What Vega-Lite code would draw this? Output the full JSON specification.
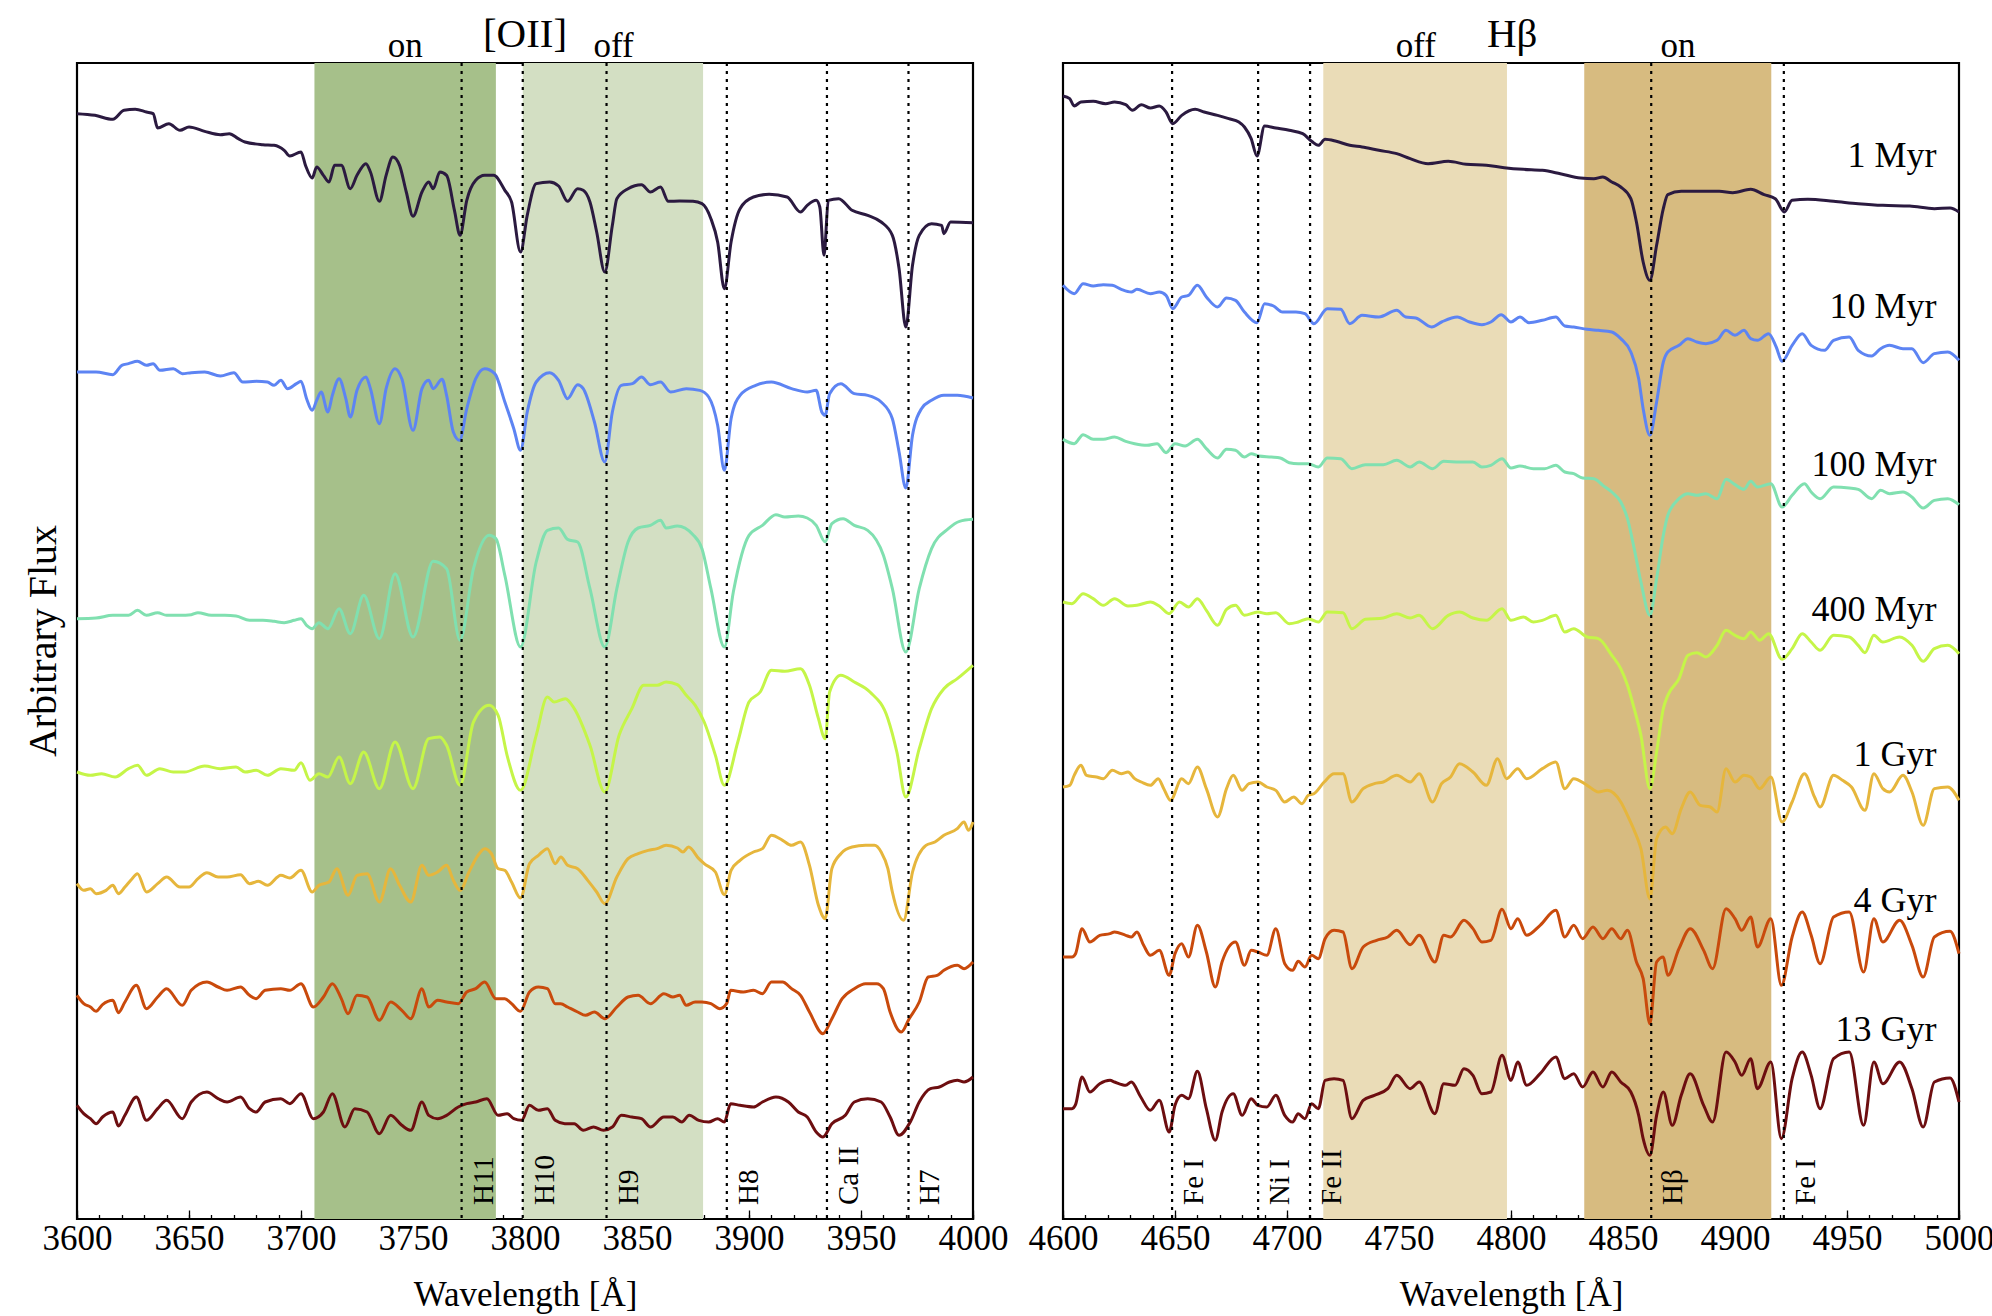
{
"$schema":"https://vega.github.io/schema/vega-lite/v6.json",
"background":"white",
"padding":{"left":23,"top":12,"right":0,"bottom":0},
"spacing":16,
"config":{
 "view":{"stroke":"black","strokeWidth":2.2},
 "axis":{"grid":false,"domain":false,"zindex":1,"labelFont":"Liberation Serif","labelFontSize":35,"labelColor":"black","titleFont":"Liberation Serif","titleFontSize":35,"titleFontWeight":"normal","titleColor":"black","tickColor":"black","tickWidth":1.3},
 "text":{"font":"Liberation Serif","color":"black"}
},
"datasets":{
 "bandsL":[{"w1":3706,"w2":3787,"k":"lon"},{"w1":3799,"w2":3879.5,"k":"loff"}],
 "bandsR":[{"w1":4716.2,"w2":4798.2,"k":"roff"},{"w1":4832.7,"w2":4916.2,"k":"ron"}],
 "linesL":[{"w":3771.7,"n":"H11"},{"w":3799,"n":"H10"},{"w":3836.4,"n":"H9"},{"w":3890.1,"n":"H8"},{"w":3934.8,"n":"Ca II"},{"w":3971.2,"n":"H7"}],
 "linesR":[{"w":4648.7,"n":"Fe I"},{"w":4687.1,"n":"Ni I"},{"w":4710.3,"n":"Fe II"},{"w":4862.6,"n":"Hβ"},{"w":4921.8,"n":"Fe I"}],
 "topL":[{"w":3746.5,"t":"on"},{"w":3839.5,"t":"off"}],
 "topR":[{"w":4757.5,"t":"off"},{"w":4874.5,"t":"on"}],
 "ttlL":[{"w":3800,"t":"[OII]"}],
 "ttlR":[{"w":4800.5,"t":"Hβ"}],
 "ytl":[{"t":"Arbitrary Flux"}],
 "ages":[{"t":"1 Myr","f":3156},{"t":"10 Myr","f":2703},{"t":"100 Myr","f":2229},{"t":"400 Myr","f":1794},{"t":"1 Gyr","f":1359},{"t":"4 Gyr","f":921},{"t":"13 Gyr","f":534}],
 "L":[
{"s":"1 Myr","w":3600,"f":3316},{"s":"1 Myr","w":3608,"f":3311},{"s":"1 Myr","w":3616,"f":3299},{"s":"1 Myr","w":3621,"f":3326},{"s":"1 Myr","w":3626,"f":3329},{"s":"1 Myr","w":3631,"f":3321},{"s":"1 Myr","w":3634,"f":3316},{"s":"1 Myr","w":3636,"f":3273},{"s":"1 Myr","w":3641,"f":3286},{"s":"1 Myr","w":3646,"f":3266},{"s":"1 Myr","w":3650,"f":3276},{"s":"1 Myr","w":3657,"f":3263},{"s":"1 Myr","w":3664,"f":3253},{"s":"1 Myr","w":3668,"f":3256},{"s":"1 Myr","w":3672,"f":3241},{"s":"1 Myr","w":3675,"f":3231},{"s":"1 Myr","w":3683,"f":3223},{"s":"1 Myr","w":3688,"f":3221},{"s":"1 Myr","w":3692.5,"f":3206},{"s":"1 Myr","w":3695,"f":3189},{"s":"1 Myr","w":3700,"f":3201},{"s":"1 Myr","w":3702,"f":3161},{"s":"1 Myr","w":3705,"f":3123},{"s":"1 Myr","w":3707,"f":3156},{"s":"1 Myr","w":3710,"f":3131},{"s":"1 Myr","w":3712.5,"f":3111},{"s":"1 Myr","w":3715,"f":3161},{"s":"1 Myr","w":3718,"f":3161},{"s":"1 Myr","w":3722,"f":3091},{"s":"1 Myr","w":3725,"f":3131},{"s":"1 Myr","w":3729,"f":3166},{"s":"1 Myr","w":3731,"f":3141},{"s":"1 Myr","w":3735,"f":3053},{"s":"1 Myr","w":3738,"f":3131},{"s":"1 Myr","w":3741,"f":3186},{"s":"1 Myr","w":3744,"f":3161},{"s":"1 Myr","w":3747,"f":3081},{"s":"1 Myr","w":3750,"f":3008},{"s":"1 Myr","w":3754,"f":3081},{"s":"1 Myr","w":3757,"f":3111},{"s":"1 Myr","w":3759,"f":3091},{"s":"1 Myr","w":3762,"f":3141},{"s":"1 Myr","w":3765,"f":3131},{"s":"1 Myr","w":3768.5,"f":3026},{"s":"1 Myr","w":3771,"f":2951},{"s":"1 Myr","w":3774,"f":3056},{"s":"1 Myr","w":3778,"f":3116},{"s":"1 Myr","w":3782,"f":3131},{"s":"1 Myr","w":3786,"f":3131},{"s":"1 Myr","w":3791,"f":3086},{"s":"1 Myr","w":3794,"f":3051},{"s":"1 Myr","w":3798,"f":2901},{"s":"1 Myr","w":3801,"f":3011},{"s":"1 Myr","w":3805,"f":3106},{"s":"1 Myr","w":3811,"f":3111},{"s":"1 Myr","w":3815,"f":3099},{"s":"1 Myr","w":3819,"f":3053},{"s":"1 Myr","w":3823.5,"f":3091},{"s":"1 Myr","w":3826,"f":3086},{"s":"1 Myr","w":3829,"f":3051},{"s":"1 Myr","w":3832,"f":2961},{"s":"1 Myr","w":3835.6,"f":2841},{"s":"1 Myr","w":3839,"f":2981},{"s":"1 Myr","w":3841,"f":3061},{"s":"1 Myr","w":3846,"f":3091},{"s":"1 Myr","w":3852,"f":3103},{"s":"1 Myr","w":3856,"f":3081},{"s":"1 Myr","w":3860.5,"f":3096},{"s":"1 Myr","w":3864,"f":3053},{"s":"1 Myr","w":3869,"f":3054},{"s":"1 Myr","w":3875,"f":3053},{"s":"1 Myr","w":3879,"f":3046},{"s":"1 Myr","w":3883,"f":3001},{"s":"1 Myr","w":3886,"f":2931},{"s":"1 Myr","w":3889,"f":2791},{"s":"1 Myr","w":3892,"f":2931},{"s":"1 Myr","w":3896,"f":3031},{"s":"1 Myr","w":3902,"f":3066},{"s":"1 Myr","w":3909,"f":3074},{"s":"1 Myr","w":3917,"f":3066},{"s":"1 Myr","w":3923,"f":3021},{"s":"1 Myr","w":3926,"f":3041},{"s":"1 Myr","w":3930,"f":3056},{"s":"1 Myr","w":3931.6,"f":3036},{"s":"1 Myr","w":3933.5,"f":2891},{"s":"1 Myr","w":3935.4,"f":3056},{"s":"1 Myr","w":3940,"f":3061},{"s":"1 Myr","w":3946,"f":3026},{"s":"1 Myr","w":3953,"f":3011},{"s":"1 Myr","w":3959,"f":2991},{"s":"1 Myr","w":3964,"f":2951},{"s":"1 Myr","w":3967,"f":2851},{"s":"1 Myr","w":3970,"f":2676},{"s":"1 Myr","w":3973,"f":2861},{"s":"1 Myr","w":3976,"f":2951},{"s":"1 Myr","w":3981.5,"f":2986},{"s":"1 Myr","w":3986,"f":2981},{"s":"1 Myr","w":3987,"f":2956},{"s":"1 Myr","w":3990,"f":2991},{"s":"1 Myr","w":4000,"f":2989},
{"s":"10 Myr","w":3600,"f":2541},{"s":"10 Myr","w":3608.5,"f":2541},{"s":"10 Myr","w":3616,"f":2533},{"s":"10 Myr","w":3620,"f":2561},{"s":"10 Myr","w":3623,"f":2566},{"s":"10 Myr","w":3627,"f":2573},{"s":"10 Myr","w":3631,"f":2561},{"s":"10 Myr","w":3634,"f":2566},{"s":"10 Myr","w":3637,"f":2546},{"s":"10 Myr","w":3643,"f":2551},{"s":"10 Myr","w":3647,"f":2536},{"s":"10 Myr","w":3651,"f":2539},{"s":"10 Myr","w":3657,"f":2541},{"s":"10 Myr","w":3664,"f":2529},{"s":"10 Myr","w":3670,"f":2539},{"s":"10 Myr","w":3674,"f":2511},{"s":"10 Myr","w":3680,"f":2513},{"s":"10 Myr","w":3685,"f":2511},{"s":"10 Myr","w":3688,"f":2501},{"s":"10 Myr","w":3691,"f":2516},{"s":"10 Myr","w":3694,"f":2491},{"s":"10 Myr","w":3698,"f":2506},{"s":"10 Myr","w":3700,"f":2513},{"s":"10 Myr","w":3702.5,"f":2461},{"s":"10 Myr","w":3705,"f":2426},{"s":"10 Myr","w":3707,"f":2456},{"s":"10 Myr","w":3709,"f":2481},{"s":"10 Myr","w":3712,"f":2421},{"s":"10 Myr","w":3714,"f":2471},{"s":"10 Myr","w":3717,"f":2521},{"s":"10 Myr","w":3720,"f":2461},{"s":"10 Myr","w":3722,"f":2406},{"s":"10 Myr","w":3725,"f":2486},{"s":"10 Myr","w":3729,"f":2526},{"s":"10 Myr","w":3731,"f":2491},{"s":"10 Myr","w":3735,"f":2386},{"s":"10 Myr","w":3738,"f":2491},{"s":"10 Myr","w":3742,"f":2551},{"s":"10 Myr","w":3745,"f":2521},{"s":"10 Myr","w":3750,"f":2366},{"s":"10 Myr","w":3754,"f":2491},{"s":"10 Myr","w":3757,"f":2516},{"s":"10 Myr","w":3759,"f":2491},{"s":"10 Myr","w":3763,"f":2519},{"s":"10 Myr","w":3765,"f":2471},{"s":"10 Myr","w":3768,"f":2361},{"s":"10 Myr","w":3770.8,"f":2336},{"s":"10 Myr","w":3774,"f":2431},{"s":"10 Myr","w":3778,"f":2521},{"s":"10 Myr","w":3782,"f":2551},{"s":"10 Myr","w":3786.5,"f":2536},{"s":"10 Myr","w":3791,"f":2451},{"s":"10 Myr","w":3795,"f":2371},{"s":"10 Myr","w":3798,"f":2306},{"s":"10 Myr","w":3801,"f":2421},{"s":"10 Myr","w":3805,"f":2511},{"s":"10 Myr","w":3811,"f":2539},{"s":"10 Myr","w":3815,"f":2516},{"s":"10 Myr","w":3819,"f":2461},{"s":"10 Myr","w":3823.5,"f":2503},{"s":"10 Myr","w":3826,"f":2491},{"s":"10 Myr","w":3831,"f":2391},{"s":"10 Myr","w":3835.6,"f":2271},{"s":"10 Myr","w":3839,"f":2421},{"s":"10 Myr","w":3843,"f":2501},{"s":"10 Myr","w":3848,"f":2506},{"s":"10 Myr","w":3852,"f":2526},{"s":"10 Myr","w":3856,"f":2503},{"s":"10 Myr","w":3860.5,"f":2511},{"s":"10 Myr","w":3865,"f":2481},{"s":"10 Myr","w":3872,"f":2491},{"s":"10 Myr","w":3878,"f":2486},{"s":"10 Myr","w":3882,"f":2466},{"s":"10 Myr","w":3886,"f":2381},{"s":"10 Myr","w":3889,"f":2246},{"s":"10 Myr","w":3892,"f":2401},{"s":"10 Myr","w":3896,"f":2471},{"s":"10 Myr","w":3903,"f":2501},{"s":"10 Myr","w":3910,"f":2511},{"s":"10 Myr","w":3919,"f":2491},{"s":"10 Myr","w":3926,"f":2481},{"s":"10 Myr","w":3930,"f":2486},{"s":"10 Myr","w":3932.5,"f":2421},{"s":"10 Myr","w":3934,"f":2411},{"s":"10 Myr","w":3936,"f":2476},{"s":"10 Myr","w":3941,"f":2506},{"s":"10 Myr","w":3947,"f":2476},{"s":"10 Myr","w":3953,"f":2471},{"s":"10 Myr","w":3959,"f":2451},{"s":"10 Myr","w":3964,"f":2401},{"s":"10 Myr","w":3967,"f":2301},{"s":"10 Myr","w":3970,"f":2193},{"s":"10 Myr","w":3973,"f":2351},{"s":"10 Myr","w":3977,"f":2431},{"s":"10 Myr","w":3981.5,"f":2456},{"s":"10 Myr","w":3987,"f":2471},{"s":"10 Myr","w":3993,"f":2471},{"s":"10 Myr","w":4000,"f":2463},
{"s":"100 Myr","w":3600,"f":1801},{"s":"100 Myr","w":3608.5,"f":1803},{"s":"100 Myr","w":3616,"f":1811},{"s":"100 Myr","w":3623,"f":1811},{"s":"100 Myr","w":3627,"f":1826},{"s":"100 Myr","w":3631,"f":1811},{"s":"100 Myr","w":3636,"f":1819},{"s":"100 Myr","w":3640,"f":1811},{"s":"100 Myr","w":3646,"f":1811},{"s":"100 Myr","w":3651,"f":1813},{"s":"100 Myr","w":3654,"f":1819},{"s":"100 Myr","w":3660,"f":1811},{"s":"100 Myr","w":3666,"f":1811},{"s":"100 Myr","w":3671,"f":1809},{"s":"100 Myr","w":3677,"f":1796},{"s":"100 Myr","w":3683,"f":1796},{"s":"100 Myr","w":3688,"f":1793},{"s":"100 Myr","w":3692.5,"f":1789},{"s":"100 Myr","w":3697,"f":1796},{"s":"100 Myr","w":3700,"f":1801},{"s":"100 Myr","w":3702.5,"f":1781},{"s":"100 Myr","w":3705,"f":1771},{"s":"100 Myr","w":3708,"f":1789},{"s":"100 Myr","w":3712,"f":1771},{"s":"100 Myr","w":3717,"f":1831},{"s":"100 Myr","w":3722,"f":1756},{"s":"100 Myr","w":3728,"f":1871},{"s":"100 Myr","w":3735,"f":1741},{"s":"100 Myr","w":3742,"f":1936},{"s":"100 Myr","w":3750,"f":1746},{"s":"100 Myr","w":3759,"f":1973},{"s":"100 Myr","w":3765,"f":1951},{"s":"100 Myr","w":3771,"f":1736},{"s":"100 Myr","w":3777,"f":1951},{"s":"100 Myr","w":3784,"f":2051},{"s":"100 Myr","w":3787,"f":2041},{"s":"100 Myr","w":3791,"f":1931},{"s":"100 Myr","w":3798,"f":1716},{"s":"100 Myr","w":3805,"f":1971},{"s":"100 Myr","w":3810,"f":2066},{"s":"100 Myr","w":3815,"f":2073},{"s":"100 Myr","w":3819,"f":2039},{"s":"100 Myr","w":3823.5,"f":2031},{"s":"100 Myr","w":3829,"f":1891},{"s":"100 Myr","w":3835.6,"f":1716},{"s":"100 Myr","w":3841,"f":1891},{"s":"100 Myr","w":3846,"f":2031},{"s":"100 Myr","w":3850.5,"f":2073},{"s":"100 Myr","w":3856,"f":2081},{"s":"100 Myr","w":3860.5,"f":2096},{"s":"100 Myr","w":3863,"f":2073},{"s":"100 Myr","w":3868,"f":2079},{"s":"100 Myr","w":3875,"f":2053},{"s":"100 Myr","w":3879,"f":2011},{"s":"100 Myr","w":3883,"f":1891},{"s":"100 Myr","w":3889,"f":1716},{"s":"100 Myr","w":3893,"f":1881},{"s":"100 Myr","w":3900,"f":2051},{"s":"100 Myr","w":3906,"f":2081},{"s":"100 Myr","w":3912,"f":2113},{"s":"100 Myr","w":3916,"f":2106},{"s":"100 Myr","w":3922,"f":2109},{"s":"100 Myr","w":3926,"f":2103},{"s":"100 Myr","w":3930,"f":2081},{"s":"100 Myr","w":3934,"f":2031},{"s":"100 Myr","w":3937,"f":2086},{"s":"100 Myr","w":3942,"f":2101},{"s":"100 Myr","w":3947,"f":2081},{"s":"100 Myr","w":3953,"f":2066},{"s":"100 Myr","w":3960,"f":1991},{"s":"100 Myr","w":3964,"f":1891},{"s":"100 Myr","w":3970,"f":1701},{"s":"100 Myr","w":3976,"f":1891},{"s":"100 Myr","w":3981.5,"f":2011},{"s":"100 Myr","w":3989,"f":2071},{"s":"100 Myr","w":3994,"f":2093},{"s":"100 Myr","w":4000,"f":2099},
{"s":"400 Myr","w":3600,"f":1341},{"s":"400 Myr","w":3606,"f":1331},{"s":"400 Myr","w":3611,"f":1336},{"s":"400 Myr","w":3617,"f":1326},{"s":"400 Myr","w":3623,"f":1351},{"s":"400 Myr","w":3627,"f":1361},{"s":"400 Myr","w":3631,"f":1331},{"s":"400 Myr","w":3637,"f":1351},{"s":"400 Myr","w":3643,"f":1341},{"s":"400 Myr","w":3648,"f":1341},{"s":"400 Myr","w":3657,"f":1359},{"s":"400 Myr","w":3664,"f":1351},{"s":"400 Myr","w":3671,"f":1356},{"s":"400 Myr","w":3675,"f":1341},{"s":"400 Myr","w":3680,"f":1346},{"s":"400 Myr","w":3685,"f":1331},{"s":"400 Myr","w":3691,"f":1351},{"s":"400 Myr","w":3697,"f":1346},{"s":"400 Myr","w":3700,"f":1369},{"s":"400 Myr","w":3704,"f":1316},{"s":"400 Myr","w":3708,"f":1336},{"s":"400 Myr","w":3712,"f":1326},{"s":"400 Myr","w":3717,"f":1386},{"s":"400 Myr","w":3722,"f":1306},{"s":"400 Myr","w":3728,"f":1401},{"s":"400 Myr","w":3735,"f":1291},{"s":"400 Myr","w":3742,"f":1431},{"s":"400 Myr","w":3750,"f":1291},{"s":"400 Myr","w":3757,"f":1441},{"s":"400 Myr","w":3762,"f":1446},{"s":"400 Myr","w":3765,"f":1421},{"s":"400 Myr","w":3771,"f":1301},{"s":"400 Myr","w":3777,"f":1491},{"s":"400 Myr","w":3784,"f":1541},{"s":"400 Myr","w":3788,"f":1511},{"s":"400 Myr","w":3792,"f":1391},{"s":"400 Myr","w":3798,"f":1286},{"s":"400 Myr","w":3805,"f":1451},{"s":"400 Myr","w":3810,"f":1566},{"s":"400 Myr","w":3813,"f":1551},{"s":"400 Myr","w":3818,"f":1561},{"s":"400 Myr","w":3822,"f":1531},{"s":"400 Myr","w":3829,"f":1421},{"s":"400 Myr","w":3835.6,"f":1281},{"s":"400 Myr","w":3842,"f":1451},{"s":"400 Myr","w":3847.7,"f":1531},{"s":"400 Myr","w":3853,"f":1601},{"s":"400 Myr","w":3859,"f":1601},{"s":"400 Myr","w":3863,"f":1611},{"s":"400 Myr","w":3868,"f":1603},{"s":"400 Myr","w":3872,"f":1571},{"s":"400 Myr","w":3876,"f":1541},{"s":"400 Myr","w":3880,"f":1491},{"s":"400 Myr","w":3885,"f":1391},{"s":"400 Myr","w":3889,"f":1301},{"s":"400 Myr","w":3895,"f":1431},{"s":"400 Myr","w":3900,"f":1551},{"s":"400 Myr","w":3905,"f":1581},{"s":"400 Myr","w":3910,"f":1646},{"s":"400 Myr","w":3916,"f":1643},{"s":"400 Myr","w":3923,"f":1651},{"s":"400 Myr","w":3927,"f":1601},{"s":"400 Myr","w":3931,"f":1501},{"s":"400 Myr","w":3934,"f":1441},{"s":"400 Myr","w":3936,"f":1581},{"s":"400 Myr","w":3941,"f":1631},{"s":"400 Myr","w":3947,"f":1611},{"s":"400 Myr","w":3954,"f":1581},{"s":"400 Myr","w":3962,"f":1501},{"s":"400 Myr","w":3966,"f":1401},{"s":"400 Myr","w":3970,"f":1266},{"s":"400 Myr","w":3976,"f":1411},{"s":"400 Myr","w":3981.5,"f":1531},{"s":"400 Myr","w":3987,"f":1591},{"s":"400 Myr","w":3993,"f":1621},{"s":"400 Myr","w":4000,"f":1661},
{"s":"1 Gyr","w":3600,"f":1006},{"s":"1 Gyr","w":3603,"f":986},{"s":"1 Gyr","w":3606,"f":991},{"s":"1 Gyr","w":3608.5,"f":976},{"s":"1 Gyr","w":3613,"f":986},{"s":"1 Gyr","w":3616,"f":1001},{"s":"1 Gyr","w":3618.5,"f":976},{"s":"1 Gyr","w":3621.4,"f":996},{"s":"1 Gyr","w":3624,"f":1016},{"s":"1 Gyr","w":3627,"f":1036},{"s":"1 Gyr","w":3631,"f":981},{"s":"1 Gyr","w":3636,"f":1006},{"s":"1 Gyr","w":3640,"f":1026},{"s":"1 Gyr","w":3646,"f":996},{"s":"1 Gyr","w":3650,"f":996},{"s":"1 Gyr","w":3654,"f":1021},{"s":"1 Gyr","w":3658,"f":1039},{"s":"1 Gyr","w":3663,"f":1026},{"s":"1 Gyr","w":3667,"f":1026},{"s":"1 Gyr","w":3673,"f":1033},{"s":"1 Gyr","w":3677,"f":1006},{"s":"1 Gyr","w":3681,"f":1013},{"s":"1 Gyr","w":3685,"f":1001},{"s":"1 Gyr","w":3691,"f":1031},{"s":"1 Gyr","w":3695,"f":1023},{"s":"1 Gyr","w":3700,"f":1046},{"s":"1 Gyr","w":3705,"f":981},{"s":"1 Gyr","w":3708,"f":1001},{"s":"1 Gyr","w":3712.5,"f":1011},{"s":"1 Gyr","w":3716,"f":1051},{"s":"1 Gyr","w":3721,"f":971},{"s":"1 Gyr","w":3725,"f":1031},{"s":"1 Gyr","w":3729.5,"f":1036},{"s":"1 Gyr","w":3735,"f":951},{"s":"1 Gyr","w":3740,"f":1051},{"s":"1 Gyr","w":3744,"f":1001},{"s":"1 Gyr","w":3749,"f":951},{"s":"1 Gyr","w":3754,"f":1061},{"s":"1 Gyr","w":3757,"f":1031},{"s":"1 Gyr","w":3761,"f":1041},{"s":"1 Gyr","w":3765,"f":1061},{"s":"1 Gyr","w":3768,"f":1016},{"s":"1 Gyr","w":3771,"f":986},{"s":"1 Gyr","w":3775,"f":1041},{"s":"1 Gyr","w":3779,"f":1091},{"s":"1 Gyr","w":3782,"f":1111},{"s":"1 Gyr","w":3785,"f":1096},{"s":"1 Gyr","w":3788,"f":1051},{"s":"1 Gyr","w":3791,"f":1046},{"s":"1 Gyr","w":3794,"f":1011},{"s":"1 Gyr","w":3798,"f":963},{"s":"1 Gyr","w":3802,"f":1066},{"s":"1 Gyr","w":3806,"f":1091},{"s":"1 Gyr","w":3810,"f":1111},{"s":"1 Gyr","w":3813.5,"f":1066},{"s":"1 Gyr","w":3816,"f":1086},{"s":"1 Gyr","w":3819,"f":1061},{"s":"1 Gyr","w":3823.5,"f":1051},{"s":"1 Gyr","w":3828,"f":1016},{"s":"1 Gyr","w":3832,"f":981},{"s":"1 Gyr","w":3835.6,"f":946},{"s":"1 Gyr","w":3841,"f":1026},{"s":"1 Gyr","w":3846,"f":1081},{"s":"1 Gyr","w":3850.5,"f":1096},{"s":"1 Gyr","w":3855,"f":1106},{"s":"1 Gyr","w":3859,"f":1111},{"s":"1 Gyr","w":3863,"f":1121},{"s":"1 Gyr","w":3868,"f":1113},{"s":"1 Gyr","w":3870.5,"f":1101},{"s":"1 Gyr","w":3873,"f":1116},{"s":"1 Gyr","w":3877.6,"f":1081},{"s":"1 Gyr","w":3880,"f":1066},{"s":"1 Gyr","w":3885,"f":1041},{"s":"1 Gyr","w":3889,"f":973},{"s":"1 Gyr","w":3892,"f":1046},{"s":"1 Gyr","w":3896,"f":1076},{"s":"1 Gyr","w":3902,"f":1101},{"s":"1 Gyr","w":3906,"f":1111},{"s":"1 Gyr","w":3910,"f":1151},{"s":"1 Gyr","w":3915,"f":1136},{"s":"1 Gyr","w":3919,"f":1121},{"s":"1 Gyr","w":3923,"f":1131},{"s":"1 Gyr","w":3927,"f":1061},{"s":"1 Gyr","w":3931,"f":941},{"s":"1 Gyr","w":3934,"f":901},{"s":"1 Gyr","w":3937,"f":1051},{"s":"1 Gyr","w":3941,"f":1096},{"s":"1 Gyr","w":3946,"f":1116},{"s":"1 Gyr","w":3952,"f":1121},{"s":"1 Gyr","w":3956,"f":1121},{"s":"1 Gyr","w":3959,"f":1101},{"s":"1 Gyr","w":3962,"f":1051},{"s":"1 Gyr","w":3964,"f":981},{"s":"1 Gyr","w":3969,"f":896},{"s":"1 Gyr","w":3973,"f":1041},{"s":"1 Gyr","w":3979,"f":1121},{"s":"1 Gyr","w":3983,"f":1131},{"s":"1 Gyr","w":3987,"f":1151},{"s":"1 Gyr","w":3993,"f":1171},{"s":"1 Gyr","w":3996,"f":1191},{"s":"1 Gyr","w":3998,"f":1166},{"s":"1 Gyr","w":4000,"f":1191},
{"s":"4 Gyr","w":3600,"f":671},{"s":"4 Gyr","w":3603,"f":646},{"s":"4 Gyr","w":3606,"f":636},{"s":"4 Gyr","w":3608.5,"f":623},{"s":"4 Gyr","w":3611.4,"f":643},{"s":"4 Gyr","w":3616,"f":656},{"s":"4 Gyr","w":3618.5,"f":619},{"s":"4 Gyr","w":3621.4,"f":651},{"s":"4 Gyr","w":3626.5,"f":701},{"s":"4 Gyr","w":3631,"f":631},{"s":"4 Gyr","w":3636,"f":666},{"s":"4 Gyr","w":3640,"f":691},{"s":"4 Gyr","w":3647,"f":641},{"s":"4 Gyr","w":3651,"f":686},{"s":"4 Gyr","w":3658,"f":711},{"s":"4 Gyr","w":3663,"f":696},{"s":"4 Gyr","w":3667,"f":686},{"s":"4 Gyr","w":3673,"f":696},{"s":"4 Gyr","w":3677,"f":671},{"s":"4 Gyr","w":3680,"f":661},{"s":"4 Gyr","w":3684,"f":686},{"s":"4 Gyr","w":3691,"f":691},{"s":"4 Gyr","w":3695,"f":686},{"s":"4 Gyr","w":3700,"f":706},{"s":"4 Gyr","w":3705.5,"f":636},{"s":"4 Gyr","w":3710,"f":666},{"s":"4 Gyr","w":3714,"f":706},{"s":"4 Gyr","w":3718,"f":661},{"s":"4 Gyr","w":3721,"f":616},{"s":"4 Gyr","w":3725,"f":671},{"s":"4 Gyr","w":3729.5,"f":666},{"s":"4 Gyr","w":3735,"f":596},{"s":"4 Gyr","w":3740,"f":651},{"s":"4 Gyr","w":3745,"f":626},{"s":"4 Gyr","w":3749,"f":601},{"s":"4 Gyr","w":3754,"f":691},{"s":"4 Gyr","w":3757,"f":636},{"s":"4 Gyr","w":3761,"f":656},{"s":"4 Gyr","w":3765,"f":651},{"s":"4 Gyr","w":3770.2,"f":646},{"s":"4 Gyr","w":3774,"f":681},{"s":"4 Gyr","w":3778,"f":691},{"s":"4 Gyr","w":3782,"f":711},{"s":"4 Gyr","w":3787,"f":661},{"s":"4 Gyr","w":3791,"f":661},{"s":"4 Gyr","w":3794,"f":646},{"s":"4 Gyr","w":3798,"f":623},{"s":"4 Gyr","w":3802,"f":681},{"s":"4 Gyr","w":3806,"f":696},{"s":"4 Gyr","w":3810,"f":691},{"s":"4 Gyr","w":3813.5,"f":646},{"s":"4 Gyr","w":3816,"f":646},{"s":"4 Gyr","w":3819,"f":636},{"s":"4 Gyr","w":3823.5,"f":621},{"s":"4 Gyr","w":3827,"f":611},{"s":"4 Gyr","w":3831,"f":621},{"s":"4 Gyr","w":3835.7,"f":601},{"s":"4 Gyr","w":3841,"f":636},{"s":"4 Gyr","w":3846,"f":666},{"s":"4 Gyr","w":3850.5,"f":671},{"s":"4 Gyr","w":3856,"f":646},{"s":"4 Gyr","w":3862,"f":676},{"s":"4 Gyr","w":3866,"f":666},{"s":"4 Gyr","w":3869,"f":671},{"s":"4 Gyr","w":3872,"f":641},{"s":"4 Gyr","w":3876,"f":651},{"s":"4 Gyr","w":3879,"f":651},{"s":"4 Gyr","w":3883,"f":646},{"s":"4 Gyr","w":3887,"f":631},{"s":"4 Gyr","w":3890,"f":646},{"s":"4 Gyr","w":3891.8,"f":686},{"s":"4 Gyr","w":3897.5,"f":681},{"s":"4 Gyr","w":3902,"f":686},{"s":"4 Gyr","w":3906,"f":676},{"s":"4 Gyr","w":3910,"f":711},{"s":"4 Gyr","w":3915,"f":711},{"s":"4 Gyr","w":3919,"f":691},{"s":"4 Gyr","w":3923,"f":671},{"s":"4 Gyr","w":3927,"f":621},{"s":"4 Gyr","w":3933,"f":556},{"s":"4 Gyr","w":3937,"f":601},{"s":"4 Gyr","w":3941.6,"f":661},{"s":"4 Gyr","w":3947,"f":691},{"s":"4 Gyr","w":3952,"f":706},{"s":"4 Gyr","w":3957,"f":706},{"s":"4 Gyr","w":3960,"f":691},{"s":"4 Gyr","w":3963,"f":621},{"s":"4 Gyr","w":3968,"f":561},{"s":"4 Gyr","w":3971.5,"f":601},{"s":"4 Gyr","w":3976,"f":651},{"s":"4 Gyr","w":3980,"f":726},{"s":"4 Gyr","w":3984,"f":731},{"s":"4 Gyr","w":3987,"f":746},{"s":"4 Gyr","w":3993,"f":761},{"s":"4 Gyr","w":3996,"f":751},{"s":"4 Gyr","w":4000,"f":771},
{"s":"13 Gyr","w":3600,"f":341},{"s":"13 Gyr","w":3603,"f":316},{"s":"13 Gyr","w":3606,"f":301},{"s":"13 Gyr","w":3608.5,"f":286},{"s":"13 Gyr","w":3611.4,"f":306},{"s":"13 Gyr","w":3616,"f":321},{"s":"13 Gyr","w":3618.5,"f":279},{"s":"13 Gyr","w":3621.4,"f":311},{"s":"13 Gyr","w":3626.5,"f":366},{"s":"13 Gyr","w":3631,"f":296},{"s":"13 Gyr","w":3636,"f":331},{"s":"13 Gyr","w":3640,"f":356},{"s":"13 Gyr","w":3647,"f":301},{"s":"13 Gyr","w":3651,"f":351},{"s":"13 Gyr","w":3658,"f":381},{"s":"13 Gyr","w":3663,"f":361},{"s":"13 Gyr","w":3667,"f":351},{"s":"13 Gyr","w":3673,"f":366},{"s":"13 Gyr","w":3677,"f":331},{"s":"13 Gyr","w":3680,"f":321},{"s":"13 Gyr","w":3684,"f":351},{"s":"13 Gyr","w":3691,"f":361},{"s":"13 Gyr","w":3695,"f":346},{"s":"13 Gyr","w":3700,"f":376},{"s":"13 Gyr","w":3705.5,"f":301},{"s":"13 Gyr","w":3710,"f":321},{"s":"13 Gyr","w":3714,"f":376},{"s":"13 Gyr","w":3719.6,"f":276},{"s":"13 Gyr","w":3724,"f":331},{"s":"13 Gyr","w":3729.5,"f":321},{"s":"13 Gyr","w":3735,"f":256},{"s":"13 Gyr","w":3740,"f":311},{"s":"13 Gyr","w":3745,"f":281},{"s":"13 Gyr","w":3749,"f":266},{"s":"13 Gyr","w":3754,"f":351},{"s":"13 Gyr","w":3757,"f":311},{"s":"13 Gyr","w":3761,"f":301},{"s":"13 Gyr","w":3765,"f":311},{"s":"13 Gyr","w":3770.2,"f":336},{"s":"13 Gyr","w":3774,"f":346},{"s":"13 Gyr","w":3778,"f":351},{"s":"13 Gyr","w":3783,"f":361},{"s":"13 Gyr","w":3788,"f":311},{"s":"13 Gyr","w":3792,"f":316},{"s":"13 Gyr","w":3795,"f":301},{"s":"13 Gyr","w":3798.5,"f":296},{"s":"13 Gyr","w":3802,"f":341},{"s":"13 Gyr","w":3806,"f":326},{"s":"13 Gyr","w":3810,"f":331},{"s":"13 Gyr","w":3813.5,"f":296},{"s":"13 Gyr","w":3817.8,"f":286},{"s":"13 Gyr","w":3822,"f":286},{"s":"13 Gyr","w":3826,"f":266},{"s":"13 Gyr","w":3830.6,"f":276},{"s":"13 Gyr","w":3835,"f":266},{"s":"13 Gyr","w":3839,"f":276},{"s":"13 Gyr","w":3843,"f":311},{"s":"13 Gyr","w":3847.7,"f":306},{"s":"13 Gyr","w":3852,"f":301},{"s":"13 Gyr","w":3856,"f":276},{"s":"13 Gyr","w":3862,"f":306},{"s":"13 Gyr","w":3866,"f":306},{"s":"13 Gyr","w":3870,"f":291},{"s":"13 Gyr","w":3873.3,"f":311},{"s":"13 Gyr","w":3877.6,"f":296},{"s":"13 Gyr","w":3882,"f":291},{"s":"13 Gyr","w":3886,"f":301},{"s":"13 Gyr","w":3889,"f":291},{"s":"13 Gyr","w":3891.8,"f":346},{"s":"13 Gyr","w":3896,"f":341},{"s":"13 Gyr","w":3902,"f":336},{"s":"13 Gyr","w":3906,"f":351},{"s":"13 Gyr","w":3912,"f":366},{"s":"13 Gyr","w":3917.6,"f":351},{"s":"13 Gyr","w":3922,"f":321},{"s":"13 Gyr","w":3926,"f":306},{"s":"13 Gyr","w":3930,"f":261},{"s":"13 Gyr","w":3933,"f":246},{"s":"13 Gyr","w":3937,"f":286},{"s":"13 Gyr","w":3943,"f":311},{"s":"13 Gyr","w":3947,"f":351},{"s":"13 Gyr","w":3953,"f":361},{"s":"13 Gyr","w":3959,"f":351},{"s":"13 Gyr","w":3963,"f":306},{"s":"13 Gyr","w":3967,"f":251},{"s":"13 Gyr","w":3972,"f":291},{"s":"13 Gyr","w":3976,"f":351},{"s":"13 Gyr","w":3981,"f":391},{"s":"13 Gyr","w":3985,"f":396},{"s":"13 Gyr","w":3989.5,"f":411},{"s":"13 Gyr","w":3993,"f":416},{"s":"13 Gyr","w":3996,"f":411},{"s":"13 Gyr","w":4000,"f":426}
 ],
 "R":[
{"s":"1 Myr","w":4600,"f":3369},{"s":"1 Myr","w":4603,"f":3361},{"s":"1 Myr","w":4605,"f":3339},{"s":"1 Myr","w":4608,"f":3351},{"s":"1 Myr","w":4613.5,"f":3353},{"s":"1 Myr","w":4619,"f":3346},{"s":"1 Myr","w":4623,"f":3351},{"s":"1 Myr","w":4628,"f":3343},{"s":"1 Myr","w":4631,"f":3326},{"s":"1 Myr","w":4635,"f":3343},{"s":"1 Myr","w":4639,"f":3333},{"s":"1 Myr","w":4643,"f":3339},{"s":"1 Myr","w":4646,"f":3321},{"s":"1 Myr","w":4649,"f":3286},{"s":"1 Myr","w":4653,"f":3311},{"s":"1 Myr","w":4659,"f":3329},{"s":"1 Myr","w":4663,"f":3321},{"s":"1 Myr","w":4669,"f":3311},{"s":"1 Myr","w":4674,"f":3301},{"s":"1 Myr","w":4678.5,"f":3291},{"s":"1 Myr","w":4681,"f":3276},{"s":"1 Myr","w":4684,"f":3241},{"s":"1 Myr","w":4686.6,"f":3189},{"s":"1 Myr","w":4690,"f":3279},{"s":"1 Myr","w":4695,"f":3273},{"s":"1 Myr","w":4701,"f":3266},{"s":"1 Myr","w":4707,"f":3256},{"s":"1 Myr","w":4711,"f":3233},{"s":"1 Myr","w":4714,"f":3221},{"s":"1 Myr","w":4717,"f":3239},{"s":"1 Myr","w":4722,"f":3233},{"s":"1 Myr","w":4728,"f":3221},{"s":"1 Myr","w":4733.5,"f":3216},{"s":"1 Myr","w":4741,"f":3206},{"s":"1 Myr","w":4749,"f":3196},{"s":"1 Myr","w":4755,"f":3181},{"s":"1 Myr","w":4763,"f":3166},{"s":"1 Myr","w":4772,"f":3173},{"s":"1 Myr","w":4780,"f":3164},{"s":"1 Myr","w":4789,"f":3161},{"s":"1 Myr","w":4797,"f":3154},{"s":"1 Myr","w":4805.5,"f":3149},{"s":"1 Myr","w":4814,"f":3146},{"s":"1 Myr","w":4822,"f":3136},{"s":"1 Myr","w":4831,"f":3123},{"s":"1 Myr","w":4837,"f":3121},{"s":"1 Myr","w":4841,"f":3126},{"s":"1 Myr","w":4845,"f":3111},{"s":"1 Myr","w":4849,"f":3096},{"s":"1 Myr","w":4853.5,"f":3061},{"s":"1 Myr","w":4856,"f":2991},{"s":"1 Myr","w":4859,"f":2871},{"s":"1 Myr","w":4862,"f":2816},{"s":"1 Myr","w":4865,"f":2921},{"s":"1 Myr","w":4868,"f":3031},{"s":"1 Myr","w":4870,"f":3073},{"s":"1 Myr","w":4876,"f":3083},{"s":"1 Myr","w":4884.5,"f":3083},{"s":"1 Myr","w":4893,"f":3083},{"s":"1 Myr","w":4899,"f":3079},{"s":"1 Myr","w":4907,"f":3089},{"s":"1 Myr","w":4913,"f":3073},{"s":"1 Myr","w":4918,"f":3061},{"s":"1 Myr","w":4922,"f":3021},{"s":"1 Myr","w":4925.5,"f":3056},{"s":"1 Myr","w":4932.5,"f":3059},{"s":"1 Myr","w":4944,"f":3053},{"s":"1 Myr","w":4955,"f":3046},{"s":"1 Myr","w":4966,"f":3041},{"s":"1 Myr","w":4978,"f":3039},{"s":"1 Myr","w":4989,"f":3031},{"s":"1 Myr","w":4996,"f":3033},{"s":"1 Myr","w":5000,"f":3021},
{"s":"10 Myr","w":4600,"f":2801},{"s":"10 Myr","w":4605,"f":2776},{"s":"10 Myr","w":4609,"f":2806},{"s":"10 Myr","w":4613.5,"f":2799},{"s":"10 Myr","w":4618,"f":2803},{"s":"10 Myr","w":4622,"f":2801},{"s":"10 Myr","w":4626,"f":2789},{"s":"10 Myr","w":4630.5,"f":2781},{"s":"10 Myr","w":4633,"f":2789},{"s":"10 Myr","w":4639,"f":2776},{"s":"10 Myr","w":4643,"f":2781},{"s":"10 Myr","w":4646,"f":2771},{"s":"10 Myr","w":4649,"f":2731},{"s":"10 Myr","w":4653,"f":2766},{"s":"10 Myr","w":4656,"f":2771},{"s":"10 Myr","w":4660,"f":2801},{"s":"10 Myr","w":4664,"f":2766},{"s":"10 Myr","w":4669,"f":2736},{"s":"10 Myr","w":4673,"f":2763},{"s":"10 Myr","w":4677,"f":2756},{"s":"10 Myr","w":4681,"f":2721},{"s":"10 Myr","w":4686.6,"f":2689},{"s":"10 Myr","w":4690,"f":2746},{"s":"10 Myr","w":4694,"f":2739},{"s":"10 Myr","w":4698,"f":2721},{"s":"10 Myr","w":4704,"f":2721},{"s":"10 Myr","w":4708,"f":2716},{"s":"10 Myr","w":4712,"f":2686},{"s":"10 Myr","w":4718,"f":2731},{"s":"10 Myr","w":4724,"f":2729},{"s":"10 Myr","w":4728,"f":2686},{"s":"10 Myr","w":4733.5,"f":2711},{"s":"10 Myr","w":4741,"f":2706},{"s":"10 Myr","w":4749,"f":2726},{"s":"10 Myr","w":4753,"f":2706},{"s":"10 Myr","w":4757.5,"f":2703},{"s":"10 Myr","w":4764.6,"f":2676},{"s":"10 Myr","w":4769,"f":2691},{"s":"10 Myr","w":4776,"f":2706},{"s":"10 Myr","w":4781.5,"f":2691},{"s":"10 Myr","w":4787,"f":2683},{"s":"10 Myr","w":4791,"f":2691},{"s":"10 Myr","w":4795.6,"f":2713},{"s":"10 Myr","w":4800,"f":2691},{"s":"10 Myr","w":4804,"f":2706},{"s":"10 Myr","w":4808,"f":2689},{"s":"10 Myr","w":4814,"f":2696},{"s":"10 Myr","w":4820,"f":2706},{"s":"10 Myr","w":4824,"f":2679},{"s":"10 Myr","w":4828,"f":2676},{"s":"10 Myr","w":4834,"f":2669},{"s":"10 Myr","w":4839,"f":2666},{"s":"10 Myr","w":4845,"f":2661},{"s":"10 Myr","w":4849,"f":2641},{"s":"10 Myr","w":4853.5,"f":2601},{"s":"10 Myr","w":4857,"f":2521},{"s":"10 Myr","w":4859,"f":2431},{"s":"10 Myr","w":4862,"f":2351},{"s":"10 Myr","w":4865,"f":2451},{"s":"10 Myr","w":4868,"f":2571},{"s":"10 Myr","w":4870,"f":2601},{"s":"10 Myr","w":4875,"f":2621},{"s":"10 Myr","w":4879,"f":2641},{"s":"10 Myr","w":4883,"f":2631},{"s":"10 Myr","w":4887,"f":2626},{"s":"10 Myr","w":4892,"f":2636},{"s":"10 Myr","w":4896,"f":2666},{"s":"10 Myr","w":4900,"f":2651},{"s":"10 Myr","w":4904,"f":2666},{"s":"10 Myr","w":4907,"f":2641},{"s":"10 Myr","w":4910,"f":2636},{"s":"10 Myr","w":4915,"f":2656},{"s":"10 Myr","w":4918.4,"f":2616},{"s":"10 Myr","w":4921,"f":2573},{"s":"10 Myr","w":4925.5,"f":2621},{"s":"10 Myr","w":4930,"f":2656},{"s":"10 Myr","w":4934,"f":2621},{"s":"10 Myr","w":4940,"f":2606},{"s":"10 Myr","w":4944,"f":2636},{"s":"10 Myr","w":4951,"f":2646},{"s":"10 Myr","w":4955,"f":2606},{"s":"10 Myr","w":4961,"f":2589},{"s":"10 Myr","w":4965,"f":2611},{"s":"10 Myr","w":4969,"f":2621},{"s":"10 Myr","w":4975,"f":2611},{"s":"10 Myr","w":4979,"f":2611},{"s":"10 Myr","w":4984,"f":2569},{"s":"10 Myr","w":4989,"f":2596},{"s":"10 Myr","w":4995,"f":2601},{"s":"10 Myr","w":5000,"f":2576},
{"s":"100 Myr","w":4600,"f":2339},{"s":"100 Myr","w":4605,"f":2326},{"s":"100 Myr","w":4609,"f":2353},{"s":"100 Myr","w":4613.5,"f":2339},{"s":"100 Myr","w":4618,"f":2339},{"s":"100 Myr","w":4623,"f":2346},{"s":"100 Myr","w":4628,"f":2333},{"s":"100 Myr","w":4632,"f":2326},{"s":"100 Myr","w":4637.5,"f":2321},{"s":"100 Myr","w":4642,"f":2326},{"s":"100 Myr","w":4646,"f":2299},{"s":"100 Myr","w":4650,"f":2326},{"s":"100 Myr","w":4654.5,"f":2319},{"s":"100 Myr","w":4660,"f":2339},{"s":"100 Myr","w":4664,"f":2311},{"s":"100 Myr","w":4669,"f":2283},{"s":"100 Myr","w":4673,"f":2309},{"s":"100 Myr","w":4677,"f":2306},{"s":"100 Myr","w":4681,"f":2286},{"s":"100 Myr","w":4684,"f":2296},{"s":"100 Myr","w":4687.5,"f":2289},{"s":"100 Myr","w":4693,"f":2286},{"s":"100 Myr","w":4697,"f":2283},{"s":"100 Myr","w":4701,"f":2269},{"s":"100 Myr","w":4705,"f":2266},{"s":"100 Myr","w":4709.5,"f":2266},{"s":"100 Myr","w":4714,"f":2256},{"s":"100 Myr","w":4718,"f":2283},{"s":"100 Myr","w":4724,"f":2281},{"s":"100 Myr","w":4729,"f":2251},{"s":"100 Myr","w":4735,"f":2263},{"s":"100 Myr","w":4743,"f":2263},{"s":"100 Myr","w":4749,"f":2276},{"s":"100 Myr","w":4755,"f":2256},{"s":"100 Myr","w":4759,"f":2271},{"s":"100 Myr","w":4765,"f":2251},{"s":"100 Myr","w":4770,"f":2273},{"s":"100 Myr","w":4777,"f":2271},{"s":"100 Myr","w":4783,"f":2271},{"s":"100 Myr","w":4787,"f":2256},{"s":"100 Myr","w":4791,"f":2261},{"s":"100 Myr","w":4796,"f":2281},{"s":"100 Myr","w":4800,"f":2253},{"s":"100 Myr","w":4804,"f":2259},{"s":"100 Myr","w":4810,"f":2251},{"s":"100 Myr","w":4815,"f":2251},{"s":"100 Myr","w":4820,"f":2261},{"s":"100 Myr","w":4824,"f":2241},{"s":"100 Myr","w":4828,"f":2236},{"s":"100 Myr","w":4832,"f":2223},{"s":"100 Myr","w":4837,"f":2221},{"s":"100 Myr","w":4841,"f":2201},{"s":"100 Myr","w":4845,"f":2181},{"s":"100 Myr","w":4849,"f":2151},{"s":"100 Myr","w":4852,"f":2101},{"s":"100 Myr","w":4855,"f":2011},{"s":"100 Myr","w":4858,"f":1911},{"s":"100 Myr","w":4862,"f":1811},{"s":"100 Myr","w":4865,"f":1921},{"s":"100 Myr","w":4868,"f":2051},{"s":"100 Myr","w":4870,"f":2111},{"s":"100 Myr","w":4875,"f":2161},{"s":"100 Myr","w":4879,"f":2176},{"s":"100 Myr","w":4883,"f":2171},{"s":"100 Myr","w":4887,"f":2176},{"s":"100 Myr","w":4892,"f":2161},{"s":"100 Myr","w":4896,"f":2219},{"s":"100 Myr","w":4900,"f":2203},{"s":"100 Myr","w":4904,"f":2189},{"s":"100 Myr","w":4907,"f":2213},{"s":"100 Myr","w":4910,"f":2196},{"s":"100 Myr","w":4916,"f":2206},{"s":"100 Myr","w":4921,"f":2136},{"s":"100 Myr","w":4925.5,"f":2171},{"s":"100 Myr","w":4931,"f":2206},{"s":"100 Myr","w":4934,"f":2181},{"s":"100 Myr","w":4938,"f":2161},{"s":"100 Myr","w":4944,"f":2196},{"s":"100 Myr","w":4951,"f":2193},{"s":"100 Myr","w":4955,"f":2189},{"s":"100 Myr","w":4961,"f":2161},{"s":"100 Myr","w":4965,"f":2186},{"s":"100 Myr","w":4969,"f":2176},{"s":"100 Myr","w":4975,"f":2181},{"s":"100 Myr","w":4979,"f":2166},{"s":"100 Myr","w":4984,"f":2133},{"s":"100 Myr","w":4989,"f":2156},{"s":"100 Myr","w":4995,"f":2161},{"s":"100 Myr","w":5000,"f":2143},
{"s":"400 Myr","w":4600,"f":1851},{"s":"400 Myr","w":4604,"f":1846},{"s":"400 Myr","w":4609,"f":1876},{"s":"400 Myr","w":4613.5,"f":1861},{"s":"400 Myr","w":4618,"f":1841},{"s":"400 Myr","w":4623,"f":1861},{"s":"400 Myr","w":4629,"f":1839},{"s":"400 Myr","w":4633,"f":1841},{"s":"400 Myr","w":4639,"f":1851},{"s":"400 Myr","w":4643,"f":1839},{"s":"400 Myr","w":4647.4,"f":1816},{"s":"400 Myr","w":4652,"f":1851},{"s":"400 Myr","w":4656,"f":1836},{"s":"400 Myr","w":4660,"f":1861},{"s":"400 Myr","w":4664,"f":1826},{"s":"400 Myr","w":4669,"f":1781},{"s":"400 Myr","w":4673,"f":1829},{"s":"400 Myr","w":4677,"f":1841},{"s":"400 Myr","w":4681,"f":1811},{"s":"400 Myr","w":4687,"f":1821},{"s":"400 Myr","w":4691,"f":1816},{"s":"400 Myr","w":4695,"f":1819},{"s":"400 Myr","w":4701,"f":1786},{"s":"400 Myr","w":4705,"f":1791},{"s":"400 Myr","w":4709.5,"f":1801},{"s":"400 Myr","w":4714,"f":1791},{"s":"400 Myr","w":4718,"f":1821},{"s":"400 Myr","w":4725,"f":1819},{"s":"400 Myr","w":4729,"f":1771},{"s":"400 Myr","w":4735,"f":1799},{"s":"400 Myr","w":4743,"f":1803},{"s":"400 Myr","w":4749,"f":1816},{"s":"400 Myr","w":4755,"f":1803},{"s":"400 Myr","w":4759,"f":1811},{"s":"400 Myr","w":4765,"f":1771},{"s":"400 Myr","w":4772,"f":1811},{"s":"400 Myr","w":4777,"f":1821},{"s":"400 Myr","w":4783,"f":1803},{"s":"400 Myr","w":4789,"f":1796},{"s":"400 Myr","w":4796,"f":1831},{"s":"400 Myr","w":4800,"f":1796},{"s":"400 Myr","w":4805.5,"f":1806},{"s":"400 Myr","w":4810,"f":1791},{"s":"400 Myr","w":4814,"f":1796},{"s":"400 Myr","w":4820,"f":1811},{"s":"400 Myr","w":4824,"f":1761},{"s":"400 Myr","w":4828,"f":1771},{"s":"400 Myr","w":4834,"f":1746},{"s":"400 Myr","w":4839,"f":1741},{"s":"400 Myr","w":4845,"f":1691},{"s":"400 Myr","w":4849,"f":1651},{"s":"400 Myr","w":4852,"f":1601},{"s":"400 Myr","w":4855,"f":1531},{"s":"400 Myr","w":4858,"f":1451},{"s":"400 Myr","w":4862,"f":1291},{"s":"400 Myr","w":4865,"f":1401},{"s":"400 Myr","w":4868,"f":1531},{"s":"400 Myr","w":4870,"f":1571},{"s":"400 Myr","w":4875,"f":1621},{"s":"400 Myr","w":4879,"f":1691},{"s":"400 Myr","w":4883,"f":1699},{"s":"400 Myr","w":4887,"f":1686},{"s":"400 Myr","w":4892,"f":1721},{"s":"400 Myr","w":4896,"f":1766},{"s":"400 Myr","w":4900,"f":1751},{"s":"400 Myr","w":4904,"f":1741},{"s":"400 Myr","w":4907,"f":1761},{"s":"400 Myr","w":4911,"f":1736},{"s":"400 Myr","w":4915,"f":1756},{"s":"400 Myr","w":4921,"f":1679},{"s":"400 Myr","w":4925.5,"f":1711},{"s":"400 Myr","w":4930,"f":1756},{"s":"400 Myr","w":4934,"f":1731},{"s":"400 Myr","w":4938,"f":1706},{"s":"400 Myr","w":4944,"f":1751},{"s":"400 Myr","w":4951,"f":1746},{"s":"400 Myr","w":4955,"f":1721},{"s":"400 Myr","w":4958,"f":1699},{"s":"400 Myr","w":4962,"f":1751},{"s":"400 Myr","w":4966,"f":1731},{"s":"400 Myr","w":4973.5,"f":1746},{"s":"400 Myr","w":4979,"f":1721},{"s":"400 Myr","w":4984,"f":1673},{"s":"400 Myr","w":4989,"f":1711},{"s":"400 Myr","w":4995,"f":1721},{"s":"400 Myr","w":5000,"f":1696},
{"s":"1 Gyr","w":4600,"f":1296},{"s":"1 Gyr","w":4603,"f":1301},{"s":"1 Gyr","w":4605,"f":1331},{"s":"1 Gyr","w":4608,"f":1361},{"s":"1 Gyr","w":4610.5,"f":1331},{"s":"1 Gyr","w":4615,"f":1326},{"s":"1 Gyr","w":4618,"f":1321},{"s":"1 Gyr","w":4622,"f":1346},{"s":"1 Gyr","w":4626,"f":1336},{"s":"1 Gyr","w":4629,"f":1341},{"s":"1 Gyr","w":4632,"f":1321},{"s":"1 Gyr","w":4635,"f":1311},{"s":"1 Gyr","w":4639,"f":1301},{"s":"1 Gyr","w":4642.5,"f":1321},{"s":"1 Gyr","w":4645,"f":1291},{"s":"1 Gyr","w":4648,"f":1256},{"s":"1 Gyr","w":4653,"f":1321},{"s":"1 Gyr","w":4656,"f":1306},{"s":"1 Gyr","w":4660,"f":1356},{"s":"1 Gyr","w":4664,"f":1291},{"s":"1 Gyr","w":4669,"f":1206},{"s":"1 Gyr","w":4673,"f":1291},{"s":"1 Gyr","w":4676,"f":1331},{"s":"1 Gyr","w":4680,"f":1286},{"s":"1 Gyr","w":4683,"f":1306},{"s":"1 Gyr","w":4687,"f":1311},{"s":"1 Gyr","w":4691,"f":1296},{"s":"1 Gyr","w":4695,"f":1286},{"s":"1 Gyr","w":4699,"f":1251},{"s":"1 Gyr","w":4703,"f":1266},{"s":"1 Gyr","w":4706.7,"f":1246},{"s":"1 Gyr","w":4709.5,"f":1271},{"s":"1 Gyr","w":4712,"f":1276},{"s":"1 Gyr","w":4716.6,"f":1311},{"s":"1 Gyr","w":4721,"f":1336},{"s":"1 Gyr","w":4725,"f":1336},{"s":"1 Gyr","w":4729,"f":1251},{"s":"1 Gyr","w":4734,"f":1291},{"s":"1 Gyr","w":4739,"f":1306},{"s":"1 Gyr","w":4743,"f":1311},{"s":"1 Gyr","w":4749,"f":1331},{"s":"1 Gyr","w":4755,"f":1311},{"s":"1 Gyr","w":4759,"f":1336},{"s":"1 Gyr","w":4765,"f":1251},{"s":"1 Gyr","w":4769,"f":1306},{"s":"1 Gyr","w":4773,"f":1326},{"s":"1 Gyr","w":4777,"f":1366},{"s":"1 Gyr","w":4783,"f":1341},{"s":"1 Gyr","w":4789,"f":1301},{"s":"1 Gyr","w":4794,"f":1381},{"s":"1 Gyr","w":4798,"f":1321},{"s":"1 Gyr","w":4803,"f":1351},{"s":"1 Gyr","w":4807,"f":1321},{"s":"1 Gyr","w":4814,"f":1351},{"s":"1 Gyr","w":4820,"f":1371},{"s":"1 Gyr","w":4824,"f":1291},{"s":"1 Gyr","w":4828,"f":1321},{"s":"1 Gyr","w":4834,"f":1301},{"s":"1 Gyr","w":4839,"f":1281},{"s":"1 Gyr","w":4843,"f":1286},{"s":"1 Gyr","w":4849,"f":1251},{"s":"1 Gyr","w":4852,"f":1211},{"s":"1 Gyr","w":4855,"f":1166},{"s":"1 Gyr","w":4858,"f":1111},{"s":"1 Gyr","w":4862,"f":960},{"s":"1 Gyr","w":4865,"f":1141},{"s":"1 Gyr","w":4869,"f":1176},{"s":"1 Gyr","w":4872,"f":1156},{"s":"1 Gyr","w":4876,"f":1231},{"s":"1 Gyr","w":4880,"f":1281},{"s":"1 Gyr","w":4884.5,"f":1241},{"s":"1 Gyr","w":4889,"f":1236},{"s":"1 Gyr","w":4892,"f":1221},{"s":"1 Gyr","w":4896,"f":1351},{"s":"1 Gyr","w":4900,"f":1311},{"s":"1 Gyr","w":4904,"f":1331},{"s":"1 Gyr","w":4907,"f":1326},{"s":"1 Gyr","w":4911,"f":1291},{"s":"1 Gyr","w":4916,"f":1326},{"s":"1 Gyr","w":4921,"f":1191},{"s":"1 Gyr","w":4925.5,"f":1251},{"s":"1 Gyr","w":4931,"f":1336},{"s":"1 Gyr","w":4935.5,"f":1266},{"s":"1 Gyr","w":4938,"f":1236},{"s":"1 Gyr","w":4944,"f":1331},{"s":"1 Gyr","w":4948,"f":1316},{"s":"1 Gyr","w":4952,"f":1296},{"s":"1 Gyr","w":4958,"f":1226},{"s":"1 Gyr","w":4962,"f":1336},{"s":"1 Gyr","w":4966,"f":1291},{"s":"1 Gyr","w":4969,"f":1281},{"s":"1 Gyr","w":4975,"f":1331},{"s":"1 Gyr","w":4979,"f":1281},{"s":"1 Gyr","w":4984,"f":1181},{"s":"1 Gyr","w":4989,"f":1291},{"s":"1 Gyr","w":4995,"f":1296},{"s":"1 Gyr","w":5000,"f":1256},
{"s":"4 Gyr","w":4600,"f":786},{"s":"4 Gyr","w":4604,"f":786},{"s":"4 Gyr","w":4605.6,"f":796},{"s":"4 Gyr","w":4608.5,"f":871},{"s":"4 Gyr","w":4612,"f":831},{"s":"4 Gyr","w":4616.4,"f":851},{"s":"4 Gyr","w":4621,"f":856},{"s":"4 Gyr","w":4623,"f":861},{"s":"4 Gyr","w":4628,"f":851},{"s":"4 Gyr","w":4630.5,"f":846},{"s":"4 Gyr","w":4633,"f":861},{"s":"4 Gyr","w":4636,"f":821},{"s":"4 Gyr","w":4639,"f":791},{"s":"4 Gyr","w":4643,"f":806},{"s":"4 Gyr","w":4647.4,"f":731},{"s":"4 Gyr","w":4650,"f":796},{"s":"4 Gyr","w":4653,"f":826},{"s":"4 Gyr","w":4656,"f":786},{"s":"4 Gyr","w":4660,"f":881},{"s":"4 Gyr","w":4664,"f":801},{"s":"4 Gyr","w":4668,"f":696},{"s":"4 Gyr","w":4671,"f":771},{"s":"4 Gyr","w":4674,"f":816},{"s":"4 Gyr","w":4677,"f":831},{"s":"4 Gyr","w":4681,"f":761},{"s":"4 Gyr","w":4684,"f":806},{"s":"4 Gyr","w":4687,"f":801},{"s":"4 Gyr","w":4691,"f":791},{"s":"4 Gyr","w":4695,"f":871},{"s":"4 Gyr","w":4699,"f":766},{"s":"4 Gyr","w":4702.5,"f":746},{"s":"4 Gyr","w":4705,"f":773},{"s":"4 Gyr","w":4708,"f":756},{"s":"4 Gyr","w":4711,"f":791},{"s":"4 Gyr","w":4714,"f":781},{"s":"4 Gyr","w":4717,"f":841},{"s":"4 Gyr","w":4721,"f":866},{"s":"4 Gyr","w":4725,"f":861},{"s":"4 Gyr","w":4729,"f":751},{"s":"4 Gyr","w":4734,"f":816},{"s":"4 Gyr","w":4740,"f":836},{"s":"4 Gyr","w":4745,"f":846},{"s":"4 Gyr","w":4749,"f":866},{"s":"4 Gyr","w":4755,"f":823},{"s":"4 Gyr","w":4759,"f":851},{"s":"4 Gyr","w":4766,"f":771},{"s":"4 Gyr","w":4770,"f":851},{"s":"4 Gyr","w":4773,"f":846},{"s":"4 Gyr","w":4779,"f":896},{"s":"4 Gyr","w":4783,"f":871},{"s":"4 Gyr","w":4787,"f":831},{"s":"4 Gyr","w":4791,"f":836},{"s":"4 Gyr","w":4796,"f":929},{"s":"4 Gyr","w":4800,"f":871},{"s":"4 Gyr","w":4803,"f":901},{"s":"4 Gyr","w":4807,"f":851},{"s":"4 Gyr","w":4813,"f":881},{"s":"4 Gyr","w":4820,"f":926},{"s":"4 Gyr","w":4824,"f":846},{"s":"4 Gyr","w":4828,"f":881},{"s":"4 Gyr","w":4832,"f":841},{"s":"4 Gyr","w":4836.6,"f":876},{"s":"4 Gyr","w":4841,"f":841},{"s":"4 Gyr","w":4845,"f":871},{"s":"4 Gyr","w":4849,"f":841},{"s":"4 Gyr","w":4852,"f":866},{"s":"4 Gyr","w":4856,"f":771},{"s":"4 Gyr","w":4859,"f":721},{"s":"4 Gyr","w":4862,"f":586},{"s":"4 Gyr","w":4865,"f":771},{"s":"4 Gyr","w":4868,"f":786},{"s":"4 Gyr","w":4870,"f":731},{"s":"4 Gyr","w":4875,"f":811},{"s":"4 Gyr","w":4880,"f":871},{"s":"4 Gyr","w":4886,"f":806},{"s":"4 Gyr","w":4890,"f":751},{"s":"4 Gyr","w":4896,"f":931},{"s":"4 Gyr","w":4900,"f":901},{"s":"4 Gyr","w":4903,"f":866},{"s":"4 Gyr","w":4907,"f":906},{"s":"4 Gyr","w":4910,"f":816},{"s":"4 Gyr","w":4916,"f":901},{"s":"4 Gyr","w":4920.7,"f":701},{"s":"4 Gyr","w":4925.5,"f":846},{"s":"4 Gyr","w":4930,"f":921},{"s":"4 Gyr","w":4934,"f":851},{"s":"4 Gyr","w":4938,"f":766},{"s":"4 Gyr","w":4944,"f":906},{"s":"4 Gyr","w":4951,"f":921},{"s":"4 Gyr","w":4957.4,"f":741},{"s":"4 Gyr","w":4962,"f":901},{"s":"4 Gyr","w":4966,"f":831},{"s":"4 Gyr","w":4973.5,"f":896},{"s":"4 Gyr","w":4979,"f":821},{"s":"4 Gyr","w":4984,"f":726},{"s":"4 Gyr","w":4989,"f":846},{"s":"4 Gyr","w":4996,"f":863},{"s":"4 Gyr","w":5000,"f":796},
{"s":"13 Gyr","w":4600,"f":331},{"s":"13 Gyr","w":4604,"f":331},{"s":"13 Gyr","w":4605.6,"f":343},{"s":"13 Gyr","w":4608.5,"f":426},{"s":"13 Gyr","w":4612,"f":381},{"s":"13 Gyr","w":4616.4,"f":406},{"s":"13 Gyr","w":4621,"f":416},{"s":"13 Gyr","w":4623,"f":411},{"s":"13 Gyr","w":4628,"f":401},{"s":"13 Gyr","w":4630.5,"f":411},{"s":"13 Gyr","w":4634.7,"f":366},{"s":"13 Gyr","w":4639,"f":326},{"s":"13 Gyr","w":4643,"f":356},{"s":"13 Gyr","w":4647.4,"f":261},{"s":"13 Gyr","w":4650,"f":341},{"s":"13 Gyr","w":4653,"f":371},{"s":"13 Gyr","w":4656,"f":361},{"s":"13 Gyr","w":4660,"f":443},{"s":"13 Gyr","w":4664,"f":331},{"s":"13 Gyr","w":4668,"f":236},{"s":"13 Gyr","w":4671,"f":321},{"s":"13 Gyr","w":4676,"f":376},{"s":"13 Gyr","w":4680,"f":311},{"s":"13 Gyr","w":4684,"f":361},{"s":"13 Gyr","w":4687,"f":341},{"s":"13 Gyr","w":4691,"f":336},{"s":"13 Gyr","w":4695,"f":371},{"s":"13 Gyr","w":4699,"f":311},{"s":"13 Gyr","w":4702.5,"f":291},{"s":"13 Gyr","w":4705,"f":316},{"s":"13 Gyr","w":4708,"f":301},{"s":"13 Gyr","w":4711,"f":346},{"s":"13 Gyr","w":4714,"f":331},{"s":"13 Gyr","w":4717,"f":416},{"s":"13 Gyr","w":4721,"f":421},{"s":"13 Gyr","w":4725,"f":416},{"s":"13 Gyr","w":4729,"f":301},{"s":"13 Gyr","w":4734,"f":356},{"s":"13 Gyr","w":4739,"f":371},{"s":"13 Gyr","w":4745,"f":391},{"s":"13 Gyr","w":4749,"f":431},{"s":"13 Gyr","w":4755,"f":391},{"s":"13 Gyr","w":4759,"f":411},{"s":"13 Gyr","w":4766,"f":316},{"s":"13 Gyr","w":4770,"f":406},{"s":"13 Gyr","w":4775,"f":401},{"s":"13 Gyr","w":4779,"f":451},{"s":"13 Gyr","w":4783,"f":431},{"s":"13 Gyr","w":4787,"f":376},{"s":"13 Gyr","w":4791,"f":381},{"s":"13 Gyr","w":4796,"f":491},{"s":"13 Gyr","w":4800,"f":416},{"s":"13 Gyr","w":4803,"f":471},{"s":"13 Gyr","w":4807,"f":401},{"s":"13 Gyr","w":4813,"f":436},{"s":"13 Gyr","w":4820,"f":486},{"s":"13 Gyr","w":4824,"f":421},{"s":"13 Gyr","w":4828,"f":436},{"s":"13 Gyr","w":4832,"f":396},{"s":"13 Gyr","w":4836.6,"f":441},{"s":"13 Gyr","w":4841,"f":396},{"s":"13 Gyr","w":4845,"f":441},{"s":"13 Gyr","w":4849,"f":411},{"s":"13 Gyr","w":4853.5,"f":381},{"s":"13 Gyr","w":4857,"f":311},{"s":"13 Gyr","w":4859,"f":241},{"s":"13 Gyr","w":4862,"f":191},{"s":"13 Gyr","w":4865,"f":311},{"s":"13 Gyr","w":4868,"f":381},{"s":"13 Gyr","w":4872,"f":281},{"s":"13 Gyr","w":4876,"f":371},{"s":"13 Gyr","w":4880,"f":436},{"s":"13 Gyr","w":4886,"f":341},{"s":"13 Gyr","w":4890,"f":291},{"s":"13 Gyr","w":4896,"f":501},{"s":"13 Gyr","w":4900,"f":471},{"s":"13 Gyr","w":4903,"f":431},{"s":"13 Gyr","w":4907,"f":481},{"s":"13 Gyr","w":4910,"f":391},{"s":"13 Gyr","w":4916,"f":471},{"s":"13 Gyr","w":4920.7,"f":241},{"s":"13 Gyr","w":4925.5,"f":421},{"s":"13 Gyr","w":4930,"f":501},{"s":"13 Gyr","w":4934,"f":431},{"s":"13 Gyr","w":4938,"f":331},{"s":"13 Gyr","w":4944,"f":481},{"s":"13 Gyr","w":4951,"f":501},{"s":"13 Gyr","w":4957.4,"f":281},{"s":"13 Gyr","w":4962,"f":471},{"s":"13 Gyr","w":4966,"f":406},{"s":"13 Gyr","w":4973.5,"f":471},{"s":"13 Gyr","w":4979,"f":391},{"s":"13 Gyr","w":4984,"f":276},{"s":"13 Gyr","w":4989,"f":411},{"s":"13 Gyr","w":4996,"f":423},{"s":"13 Gyr","w":5000,"f":351}
 ]
},
"hconcat":[
 {"width":896,"height":1156,
  "resolve":{"axis":{"x":"independent"}},
  "layer":[
   {"data":{"name":"bandsL"},"mark":"rect",
    "encoding":{
     "x":{"field":"w1","type":"quantitative","scale":{"domain":[3600,4000],"nice":false,"zero":false},
      "axis":{"orient":"bottom","values":[3600,3650,3700,3750,3800,3850,3900,3950,4000],"format":"d","ticks":false,"labelPadding":2,"labelFlush":false,"labelOverlap":false,"title":"Wavelength [Å]","titlePadding":21}},
     "x2":{"field":"w2"},
     "fill":{"field":"k","type":"nominal","scale":{"domain":["lon","loff","roff","ron"],"range":["#a6c08a","#d3dfc3","#eadcb7","#d7bb80"]},"legend":null}
    }},
   {"data":{"name":"L"},"mark":{"type":"line","strokeWidth":3,"strokeJoin":"round","interpolate":"monotone"},
    "encoding":{
     "x":{"field":"w","type":"quantitative","scale":{"domain":[3600,4000],"nice":false,"zero":false},
      "axis":{"orient":"bottom","values":[3600,3650,3700,3750,3800,3850,3900,3950,4000],"labels":false,"tickSize":-9,"title":null}},
     "y":{"field":"f","type":"quantitative","scale":{"domain":[0,3468],"nice":false,"zero":false},"axis":null},
     "stroke":{"field":"s","type":"nominal","scale":{"domain":["1 Myr","10 Myr","100 Myr","400 Myr","1 Gyr","4 Gyr","13 Gyr"],"range":["#2b1a40","#5d84f3","#80e0b0","#c5f548","#e6b63c","#c94a0c","#6d0e10"]},"legend":null}
    }},
   {"data":{"name":"linesL"},"mark":{"type":"rule","strokeDash":[3,5],"strokeWidth":2.2,"color":"black"},
    "encoding":{
     "x":{"field":"w","type":"quantitative","scale":{"domain":[3600,4000],"nice":false,"zero":false},
      "axis":{"orient":"bottom","values":[3600,3610,3620,3630,3640,3650,3660,3670,3680,3690,3700,3710,3720,3730,3740,3750,3760,3770,3780,3790,3800,3810,3820,3830,3840,3850,3860,3870,3880,3890,3900,3910,3920,3930,3940,3950,3960,3970,3980,3990,4000],"labels":false,"tickSize":-4.5,"title":null}}
    }},
   {"data":{"name":"linesL"},"mark":{"type":"text","angle":270,"align":"left","baseline":"top","dy":8,"fontSize":29},
    "encoding":{
     "x":{"field":"w","type":"quantitative","scale":{"domain":[3600,4000],"nice":false,"zero":false},"axis":null},
     "y":{"datum":42,"type":"quantitative","scale":{"domain":[0,3468],"nice":false,"zero":false},"axis":null},
     "text":{"field":"n"}
    }},
   {"data":{"name":"topL"},"mark":{"type":"text","align":"center","baseline":"alphabetic","fontSize":35},
    "encoding":{
     "x":{"field":"w","type":"quantitative","scale":{"domain":[3600,4000],"nice":false,"zero":false},"axis":null},
     "y":{"datum":3486,"type":"quantitative","scale":{"domain":[0,3468],"nice":false,"zero":false},"axis":null},
     "text":{"field":"t"}
    }},
   {"data":{"name":"ttlL"},"mark":{"type":"text","align":"center","baseline":"alphabetic","fontSize":41},
    "encoding":{
     "x":{"field":"w","type":"quantitative","scale":{"domain":[3600,4000],"nice":false,"zero":false},"axis":null},
     "y":{"datum":3516,"type":"quantitative","scale":{"domain":[0,3468],"nice":false,"zero":false},"axis":null},
     "text":{"field":"t"}
    }},
   {"data":{"name":"ytl"},"mark":{"type":"text","align":"center","baseline":"bottom","angle":270,"fontSize":40},
    "encoding":{
     "x":{"datum":3594.4,"type":"quantitative","scale":{"domain":[3600,4000],"nice":false,"zero":false},"axis":null},
     "y":{"datum":1734,"type":"quantitative","scale":{"domain":[0,3468],"nice":false,"zero":false},"axis":null},
     "text":{"field":"t"}
    }}
  ]},
 {"width":896,"height":1156,
  "resolve":{"axis":{"x":"independent"}},
  "layer":[
   {"data":{"name":"bandsR"},"mark":"rect",
    "encoding":{
     "x":{"field":"w1","type":"quantitative","scale":{"domain":[4600,5000],"nice":false,"zero":false},
      "axis":{"orient":"bottom","values":[4600,4650,4700,4750,4800,4850,4900,4950,5000],"format":"d","ticks":false,"labelPadding":2,"labelFlush":false,"labelOverlap":false,"title":"Wavelength [Å]","titlePadding":21}},
     "x2":{"field":"w2"},
     "fill":{"field":"k","type":"nominal","scale":{"domain":["lon","loff","roff","ron"],"range":["#a6c08a","#d3dfc3","#eadcb7","#d7bb80"]},"legend":null}
    }},
   {"data":{"name":"R"},"mark":{"type":"line","strokeWidth":3,"strokeJoin":"round","interpolate":"monotone"},
    "encoding":{
     "x":{"field":"w","type":"quantitative","scale":{"domain":[4600,5000],"nice":false,"zero":false},
      "axis":{"orient":"bottom","values":[4600,4650,4700,4750,4800,4850,4900,4950,5000],"labels":false,"tickSize":-9,"title":null}},
     "y":{"field":"f","type":"quantitative","scale":{"domain":[0,3468],"nice":false,"zero":false},"axis":null},
     "stroke":{"field":"s","type":"nominal","scale":{"domain":["1 Myr","10 Myr","100 Myr","400 Myr","1 Gyr","4 Gyr","13 Gyr"],"range":["#2b1a40","#5d84f3","#80e0b0","#c5f548","#e6b63c","#c94a0c","#6d0e10"]},"legend":null}
    }},
   {"data":{"name":"linesR"},"mark":{"type":"rule","strokeDash":[3,5],"strokeWidth":2.2,"color":"black"},
    "encoding":{
     "x":{"field":"w","type":"quantitative","scale":{"domain":[4600,5000],"nice":false,"zero":false},
      "axis":{"orient":"bottom","values":[4600,4610,4620,4630,4640,4650,4660,4670,4680,4690,4700,4710,4720,4730,4740,4750,4760,4770,4780,4790,4800,4810,4820,4830,4840,4850,4860,4870,4880,4890,4900,4910,4920,4930,4940,4950,4960,4970,4980,4990,5000],"labels":false,"tickSize":-4.5,"title":null}}
    }},
   {"data":{"name":"linesR"},"mark":{"type":"text","angle":270,"align":"left","baseline":"top","dy":8,"fontSize":29},
    "encoding":{
     "x":{"field":"w","type":"quantitative","scale":{"domain":[4600,5000],"nice":false,"zero":false},"axis":null},
     "y":{"datum":42,"type":"quantitative","scale":{"domain":[0,3468],"nice":false,"zero":false},"axis":null},
     "text":{"field":"n"}
    }},
   {"data":{"name":"topR"},"mark":{"type":"text","align":"center","baseline":"alphabetic","fontSize":35},
    "encoding":{
     "x":{"field":"w","type":"quantitative","scale":{"domain":[4600,5000],"nice":false,"zero":false},"axis":null},
     "y":{"datum":3486,"type":"quantitative","scale":{"domain":[0,3468],"nice":false,"zero":false},"axis":null},
     "text":{"field":"t"}
    }},
   {"data":{"name":"ttlR"},"mark":{"type":"text","align":"center","baseline":"alphabetic","fontSize":41},
    "encoding":{
     "x":{"field":"w","type":"quantitative","scale":{"domain":[4600,5000],"nice":false,"zero":false},"axis":null},
     "y":{"datum":3516,"type":"quantitative","scale":{"domain":[0,3468],"nice":false,"zero":false},"axis":null},
     "text":{"field":"t"}
    }},
   {"data":{"name":"ages"},"mark":{"type":"text","align":"right","baseline":"alphabetic","fontSize":36},
    "encoding":{
     "x":{"datum":4990,"type":"quantitative","scale":{"domain":[4600,5000],"nice":false,"zero":false},"axis":null},
     "y":{"field":"f","type":"quantitative","scale":{"domain":[0,3468],"nice":false,"zero":false},"axis":null},
     "text":{"field":"t"}
    }}
  ]}
]
}
